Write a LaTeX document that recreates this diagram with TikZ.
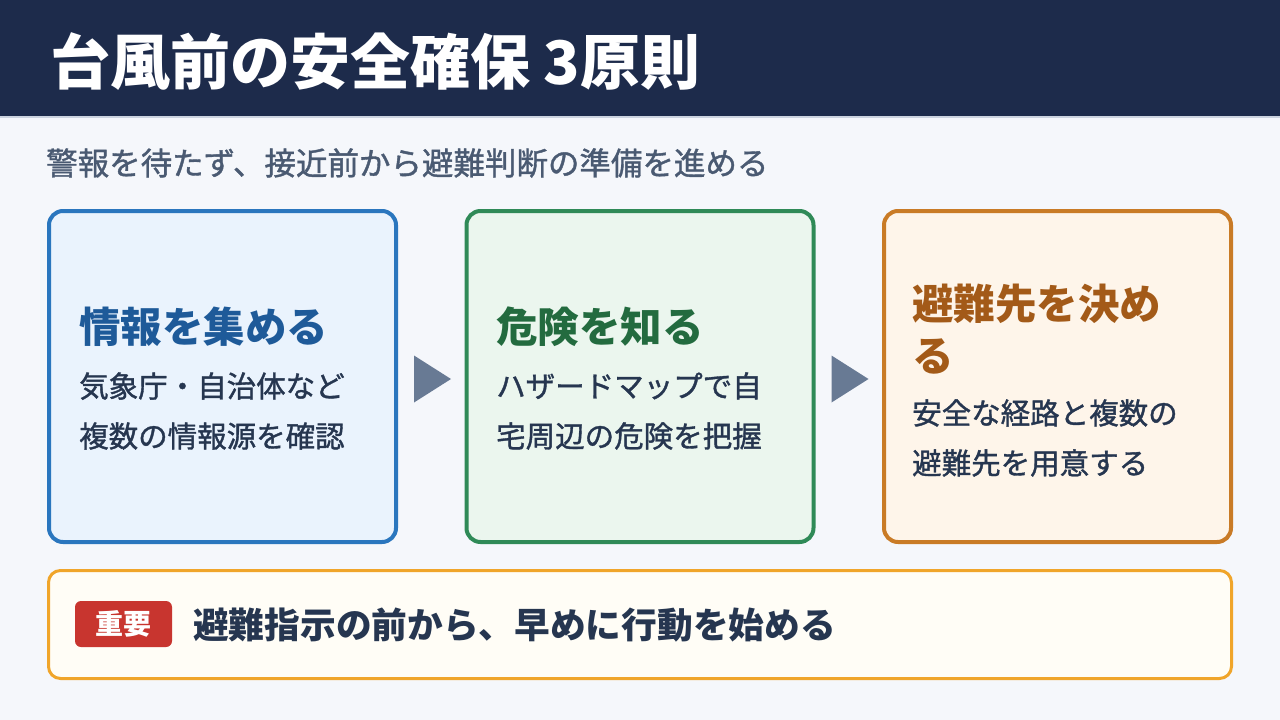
\documentclass[tikz,border=0pt]{standalone}
\usepackage{fontspec}
\newfontfamily\jp{Noto Sans CJK JP}
\newfontfamily\jpm[FakeBold=1.2]{Noto Sans CJK JP}
\usetikzlibrary{calc}
\definecolor{navy}{HTML}{1D2B4B}
\definecolor{pagebg}{HTML}{F5F7FB}
\definecolor{subc}{HTML}{4A5A72}
\definecolor{bodyc}{HTML}{263650}
\definecolor{bluebd}{HTML}{2A76BE}
\definecolor{bluefill}{HTML}{EAF3FD}
\definecolor{bluehd}{HTML}{1E5A99}
\definecolor{greenbd}{HTML}{2F8A57}
\definecolor{greenfill}{HTML}{EBF6EE}
\definecolor{greenhd}{HTML}{236B3F}
\definecolor{orangebd}{HTML}{C97B26}
\definecolor{orangefill}{HTML}{FEF5EA}
\definecolor{orangehd}{HTML}{A35A18}
\definecolor{arrowc}{HTML}{687A94}
\definecolor{notebd}{HTML}{F0A52A}
\definecolor{notefill}{HTML}{FFFDF6}
\definecolor{badgec}{HTML}{C8352F}
\definecolor{linec}{HTML}{CBD3DF}
\tikzset{
  card/.style={draw, line width=4pt, rounded corners=14pt, minimum width=347pt, minimum height=331pt, inner sep=0pt},
  headtxt/.style={anchor=west, inner sep=0pt, align=left, font=\jp\bfseries\fontsize{41.5}{52}\selectfont},
  bodytxt/.style={anchor=west, inner sep=0pt, align=left, text=bodyc, font=\jpm\fontsize{29.5}{50}\selectfont},
  flowarrow/.style={fill=arrowc},
}
\begin{document}
\begin{tikzpicture}[x=1pt,y=-1pt]
\useasboundingbox (0,0) rectangle (1280,720);
\fill[pagebg] (0,0) rectangle (1280,720);
\fill[navy] (0,0) rectangle (1280,116);
\fill[linec] (0,116) rectangle (1280,118);
\node[anchor=west, inner sep=0pt, text=white, font=\jp\bfseries\fontsize{60}{66}\selectfont] (title) at (50,62) {台風前の安全確保 3原則};
\node[anchor=west, inner sep=0pt, text=subc, font=\jpm\fontsize{31.5}{36}\selectfont] (sub) at (46,163) {警報を待たず、接近前から避難判断の準備を進める};

\node[card, draw=bluebd, fill=bluefill] (c1) at (222.5,376.5) {};
\node[card, draw=greenbd, fill=greenfill] (c2) at (640,376.5) {};
\node[card, draw=orangebd, fill=orangefill] (c3) at (1057.5,376.5) {};

\node[headtxt, text=bluehd] (h1) at (79,327) {情報を集める};
\node[bodytxt] (b1) at (79,411) {気象庁・自治体など\\複数の情報源を確認};
\node[headtxt, text=greenhd] (h2) at (496,327) {危険を知る};
\node[bodytxt] (b2) at (496,411) {ハザードマップで自\\宅周辺の危険を把握};
\node[headtxt, text=orangehd] (h3) at (912,329) {避難先を決め\\る};
\node[bodytxt] (b3) at (912,438) {安全な経路と複数の\\避難先を用意する};

\fill[flowarrow] ($(c1.east)+(16,-21)$) -- ($(c1.east)+(53,2.5)$) -- ($(c1.east)+(16,26)$) -- cycle;
\fill[flowarrow] ($(c2.east)+(16,-21)$) -- ($(c2.east)+(53,2.5)$) -- ($(c2.east)+(16,26)$) -- cycle;

\node[draw=notebd, fill=notefill, line width=3pt, rounded corners=12pt, minimum width=1183pt, minimum height=108pt, inner sep=0pt] (note) at (640,624.5) {};
\node[fill=badgec, rounded corners=6pt, minimum width=97pt, minimum height=46pt, inner sep=0pt, text=white, font=\jp\bfseries\fontsize{28}{30}\selectfont] (badge) at (123.5,624) {重要};
\node[anchor=west, inner sep=0pt, text=bodyc, font=\jp\bfseries\fontsize{35.7}{40}\selectfont] (notetxt) at (193,625) {避難指示の前から、早めに行動を始める};
\end{tikzpicture}
\end{document}
